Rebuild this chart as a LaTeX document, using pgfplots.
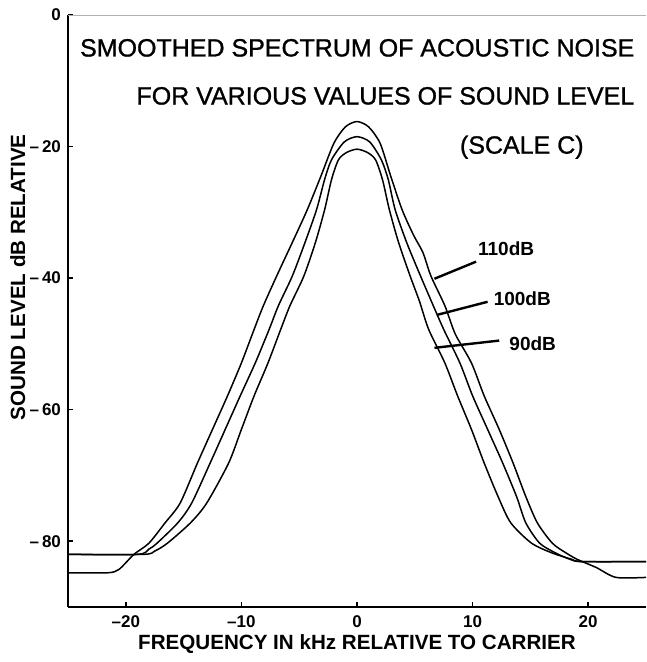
\documentclass[border=0pt]{standalone}
\usepackage{fontspec}
\setmainfont{Liberation Sans}
\newfontfamily\titlefont[FakeBold=1]{Liberation Sans}
\usepackage{pgfplots}
\pgfplotsset{compat=1.18}
\usetikzlibrary{calc}

% curves: x in kHz, y in dB
\pgfplotstableread{
x y
-25 -84.8
-21.6 -84.8
-20.6 -84.3
-19.3 -82.0
-18.0 -80.3
-16.6 -77.2
-15.3 -74.2
-13.8 -68.1
-12.5 -63.0
-11.2 -57.9
-10.0 -52.9
-8.9 -47.8
-8.1 -44.2
-6.9 -39.5
-5.6 -34.6
-4.3 -29.6
-3.1 -24.4
-2.0 -19.5
-1.0 -17.0
0 -16.2
1.0 -17.0
2.0 -19.5
2.9 -24.4
3.9 -29.6
4.9 -33.5
5.7 -36.1
6.4 -39.7
7.6 -44.2
8.5 -48.5
9.9 -52.9
11.0 -57.9
12.3 -63.0
13.5 -68.1
14.6 -73.2
15.6 -77.2
16.9 -80.3
18.1 -81.8
19.1 -82.8
20.7 -84.0
22.4 -85.5
25 -85.5
}\dbonetenTable

\pgfplotstableread{
x y
-25 -82.0
-19.0 -82.0
-18.0 -81.2
-17.3 -80.3
-15.5 -77.2
-14.3 -74.2
-12.7 -68.1
-11.4 -63.0
-10.1 -57.9
-8.8 -52.9
-7.6 -47.8
-6.8 -44.2
-5.6 -39.7
-4.5 -34.6
-3.5 -29.6
-2.8 -25.0
-2.2 -22.0
-1.1 -19.3
0 -18.5
1.1 -19.3
2.1 -22.0
2.7 -25.0
3.3 -29.6
4.3 -34.6
5.5 -39.7
6.6 -44.2
7.5 -47.8
8.9 -52.9
10.0 -57.9
11.3 -63.0
12.6 -68.1
13.8 -73.2
14.6 -77.2
15.8 -80.3
17.2 -81.8
18.5 -82.8
19.5 -83.1
25 -83.1
}\dbhundredTable

\pgfplotstableread{
x y
-25 -82.0
-18.5 -82.0
-17.5 -81.5
-16.4 -80.3
-14.4 -77.2
-13.0 -74.2
-11.1 -68.1
-10.0 -63.0
-8.9 -57.9
-7.7 -52.9
-6.6 -47.8
-5.8 -44.2
-4.6 -39.7
-3.6 -34.6
-2.8 -29.6
-2.2 -25.0
-1.6 -22.0
-0.9 -20.9
0 -20.4
0.9 -20.9
1.6 -22.0
2.2 -25.0
2.8 -29.6
3.6 -34.6
4.6 -39.7
5.4 -43.5
6.2 -47.8
7.6 -52.9
8.7 -57.9
9.9 -63.0
11.0 -68.1
12.2 -73.2
13.3 -77.2
15.1 -80.3
16.9 -81.8
18.5 -82.7
19.5 -83.1
25 -83.1
}\dbninetyTable

\begin{document}
\begin{tikzpicture}
\begin{axis}[
  name=ax,
  scale only axis, width=289pt, height=296pt,
  xmin=-25, xmax=25, ymin=-90, ymax=0,
  axis x line=bottom, axis y line=left,
  axis line style={line width=1.4pt, -},
  xtick={-20,-10,0,10,20}, xticklabels={--20,--10,0,10,20},
  ytick={-80,-60,-40,-20,0}, yticklabels={--\,80,--\,60,--\,40,--\,20,0},
  tick align=inside, major tick length=2.5pt,
  tick style={line width=0.8pt, black},
  tick label style={font=\bfseries\fontsize{8.5}{10}\selectfont},
  xticklabel style={yshift=-1pt},
  xlabel={FREQUENCY IN kHz RELATIVE TO CARRIER},
  ylabel={SOUND LEVEL dB RELATIVE},
  xlabel style={font=\bfseries\fontsize{10.3}{12}\selectfont, at={(axis description cs:0.5,-0.063)}, anchor=center},
  ylabel style={font=\bfseries\fontsize{10.3}{12}\selectfont, at={(axis description cs:-0.087,0.557)}, anchor=center},
  clip=false,
]
\draw[gray!60, line width=0.4pt] (rel axis cs:0,1) -- (rel axis cs:1,1);

\addplot[black, line width=0.75pt, smooth, tension=0.45] table[x=x, y=y] {\dbonetenTable};
\addplot[black, line width=0.75pt, smooth, tension=0.45] table[x=x, y=y] {\dbhundredTable};
\addplot[black, line width=0.75pt, smooth, tension=0.45] table[x=x, y=y] {\dbninetyTable};

\draw[line width=1.2pt] (axis cs:10.3,-37.5) -- (axis cs:6.7,-40.1);
\draw[line width=1.2pt] (axis cs:11.3,-43.6) -- (axis cs:6.9,-45.6);
\draw[line width=1.2pt] (axis cs:12.3,-49.5) -- (axis cs:6.7,-50.6);
\node[font=\bfseries\fontsize{9.5}{11}\selectfont] at (axis cs:12.9,-35.6) {110dB};
\node[font=\bfseries\fontsize{9.5}{11}\selectfont] at (axis cs:14.3,-43.1) {100dB};
\node[font=\bfseries\fontsize{9.5}{11}\selectfont] at (axis cs:15.2,-49.9) {90dB};

\node[anchor=east, font=\titlefont\fontsize{12.5}{14}\selectfont] at (axis cs:24.6,-5.0) {SMOOTHED SPECTRUM OF ACOUSTIC NOISE};
\node[anchor=east, font=\titlefont\fontsize{12.5}{14}\selectfont] at (axis cs:24.6,-12.3) {FOR VARIOUS VALUES OF SOUND LEVEL};
\node[anchor=west, font=\titlefont\fontsize{12.5}{14}\selectfont] at (axis cs:8.3,-20.1) {(SCALE C)};
\end{axis}
\pgfresetboundingbox
\path ($(ax.south west)+(-34pt,-27.5pt)$) rectangle ($(ax.north east)+(0pt,7.5pt)$);
\end{tikzpicture}
\end{document}
